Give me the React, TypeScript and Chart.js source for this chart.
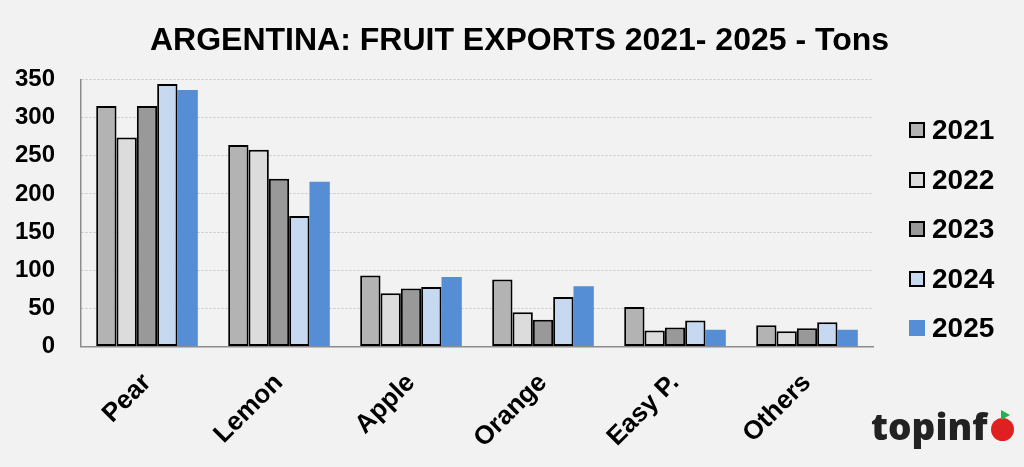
import React, { useEffect, useRef } from "react";
import { Chart, registerables } from "chart.js";

Chart.register(...registerables);

const categories = ["Pear", "Lemon", "Apple", "Orange", "Easy P.", "Others"];
const years = ["2021", "2022", "2023", "2024", "2025"];
const values2021 = [315, 264, 93, 88, 52, 28];
const values2022 = [274, 258, 70, 45, 21, 20];
const values2023 = [315, 220, 76, 35, 25, 24];
const values2024 = [344, 171, 78, 65, 34, 32];
const values2025 = [336, 216, 91, 79, 22, 22];
const yTicks = [0, 50, 100, 150, 200, 250, 300, 350];

const seriesValues = [values2021, values2022, values2023, values2024, values2025];
const fills = ["#b3b3b3", "#dcdcdc", "#999999", "#c6d9f1", "#558ed5"];
const borders = ["#000000", "#000000", "#000000", "#000000", "#558ed5"];
const borderWidths = [2, 2, 2, 2, 0];

const FONT = "Arial, 'Liberation Sans', Helvetica, sans-serif";

export default function App() {
  const canvasRef = useRef<HTMLCanvasElement | null>(null);

  useEffect(() => {
    document.body.style.margin = "0";
    document.body.style.background = "#f2f2f2";
    const canvas = canvasRef.current;
    if (!canvas) return;
    const chart = new Chart(canvas, {
      type: "bar",
      data: {
        labels: categories,
        datasets: years.map((y, i) => ({
          label: y,
          data: seriesValues[i],
          backgroundColor: fills[i],
          borderColor: borders[i],
          borderWidth: borderWidths[i],
          borderSkipped: false,
          barPercentage: 1,
          categoryPercentage: 0.77,
        })),
      },
      options: {
        animation: false,
        responsive: true,
        maintainAspectRatio: false,
        layout: { padding: { left: 15, right: 0, top: 0, bottom: 0 } },
        plugins: {
          legend: { display: false },
          tooltip: { enabled: false },
          title: {
            display: true,
            text: "ARGENTINA: FRUIT EXPORTS 2021- 2025 - Tons",
            color: "#000000",
            font: { family: FONT, size: 32, weight: "bold" },
            padding: { top: 22, bottom: 19 },
          },
        },
        scales: {
          x: {
            grid: { display: false },
            border: { display: true, color: "#8c8c8c", width: 1.5 },
            ticks: {
              color: "#000000",
              font: { family: FONT, size: 26, weight: "bold" },
              minRotation: 45,
              maxRotation: 45,
              padding: 13,
            },
          },
          y: {
            min: 0,
            max: 350,
            afterBuildTicks: (axis: any) => {
              axis.ticks = yTicks.map((v) => ({ value: v }));
            },
            afterFit: (s: any) => {
              s.width = 66;
            },
            grid: {
              color: "#c4c4c4",
              lineWidth: 1,
              drawTicks: false,
            },
            border: { display: true, color: "#8c8c8c", width: 1.5, dash: [2, 2] },
            ticks: {
              color: "#000000",
              font: { family: FONT, size: 24, weight: "bold" },
              padding: 26,
            },
          },
          yRight: {
            position: "right",
            display: true,
            min: 0,
            max: 350,
            grid: { display: false, drawOnChartArea: false },
            border: { display: false },
            ticks: { display: false },
            afterFit: (s: any) => {
              s.width = 151;
            },
          },
        },
      },
    } as any);
    return () => chart.destroy();
  }, []);

  return (
    <div
      style={{
        position: "relative",
        width: 1024,
        height: 467,
        background: "#f2f2f2",
        overflow: "hidden",
      }}
    >
      <canvas ref={canvasRef} />
      <div style={{ position: "absolute", left: 0, top: 0 }}>
        {years.map((y, i) => (
          <div
            key={y}
            style={{
              position: "absolute",
              left: 909,
              top: 130 + i * 49.5 - 18,
              height: 36,
              display: "flex",
              alignItems: "center",
              whiteSpace: "nowrap",
            }}
          >
            <span
              style={{
                display: "inline-block",
                width: borderWidths[i] ? 12 : 16,
                height: borderWidths[i] ? 12 : 16,
                background: fills[i],
                border: borderWidths[i] ? "2px solid #000" : "none",
                marginRight: 7,
              }}
            />
            <span
              style={{
                fontFamily: FONT,
                fontWeight: "bold",
                fontSize: 28,
                color: "#000",
              }}
            >
              {y}
            </span>
          </div>
        ))}
      </div>
      <div
        style={{
          position: "absolute",
          left: 871,
          top: 402,
          height: 46,
          display: "flex",
          alignItems: "center",
          fontFamily: "'Open Sans', sans-serif",
          fontWeight: 800,
          fontSize: 37,
          color: "#222222",
          letterSpacing: 0,
          whiteSpace: "nowrap",
        }}
      >
        <span>topinf</span>
        <span
          style={{
            position: "relative",
            display: "inline-block",
            width: 23,
            height: 23,
            borderRadius: "50%",
            background: "#e02020",
            marginLeft: 3,
            marginTop: 8,
          }}
        >
          <span
            style={{
              position: "absolute",
              left: 10,
              top: -8,
              width: 0,
              height: 0,
              borderTop: "5px solid transparent",
              borderBottom: "5px solid transparent",
              borderLeft: "9px solid #22b14c",
            }}
          />
        </span>
      </div>
    </div>
  );
}
